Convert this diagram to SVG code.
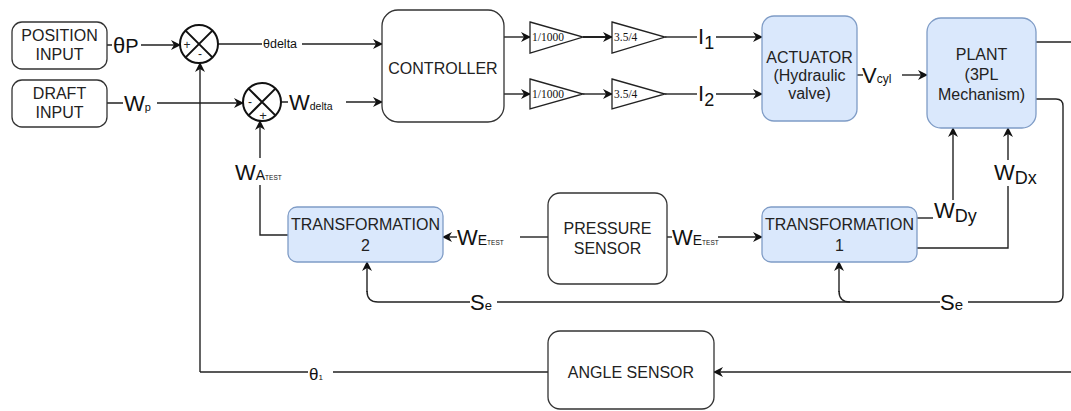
<svg xmlns="http://www.w3.org/2000/svg" width="1071" height="411" viewBox="0 0 1071 411">
<defs>
<marker id="arr" viewBox="0 0 10 10" refX="9" refY="5" markerWidth="10" markerHeight="10" markerUnits="userSpaceOnUse" orient="auto">
<path d="M0,0 L10,5 L0,10 L3,5 z" fill="#111"/>
</marker>
<style>
.box{fill:#fff;stroke:#333;stroke-width:1.3}
.blue{fill:#dae8fc;stroke:#7f9cc6;stroke-width:1.3}
.t{font-family:"Liberation Sans",Arial,sans-serif;font-size:16px;fill:#222;text-anchor:middle}
.e{fill:none;stroke:#222;stroke-width:1.4}
.ea{fill:none;stroke:#222;stroke-width:1.4;marker-end:url(#arr)}
.lb{font-family:"Liberation Sans",Arial,sans-serif;font-size:22px;fill:#111}
.sm{font-size:11px}
.g{font-family:"Liberation Serif","Times New Roman",serif;font-size:11.5px;fill:#111}
.tri{fill:#fff;stroke:#222;stroke-width:1.3}
</style>
</defs>
<g id="connectors">
<path class="ea" d="M107,45 H112 M141,45 H180"/>
<path class="ea" d="M218,44 H262 M302,44 H382"/>
<path class="ea" d="M107,103 H123 M157,103 H243"/>
<path class="ea" d="M281,102 H288 M346,102 H382"/>
<path class="ea" d="M504,37 H530"/>
<path class="ea" d="M583,37 H612" style="stroke-width:2"/>
<path class="e" d="M665,37 H697"/>
<path class="ea" d="M716,37 H762"/>
<path class="ea" d="M504,94 H530"/>
<path class="ea" d="M583,94 H612"/>
<path class="e" d="M665,94 H697"/>
<path class="ea" d="M716,94 H762"/>
<path class="e" d="M857,75 H863"/>
<path class="ea" d="M902,75 H927"/>
<path class="e" d="M1036,42 H1071"/>
<path class="e" d="M1036,99 H1056 Q1063,99 1063,106 V295 Q1063,302 1056,302 H968 M940,302 H497 M470,302 H378 Q367,302 367,291"/>
<path class="ea" d="M367,292 V262"/>
<path class="e" d="M850,302 Q839,302 839,291"/>
<path class="ea" d="M839,292 V262"/>
<path class="e" d="M917,248 H1008 V186"/>
<path class="ea" d="M1008,160 V128"/>
<path class="e" d="M917,218 H933"/>
<path class="ea" d="M953,200 V128"/>
<path class="e" d="M667,237 H672"/>
<path class="ea" d="M718,237 H762"/>
<path class="e" d="M548,237 H520"/>
<path class="ea" d="M457,237 H443"/>
<path class="e" d="M288,235 H260 V185"/>
<path class="ea" d="M260,158 V121"/>
<path class="ea" d="M1071,372 H714"/>
<path class="e" d="M548,372 H333 M308,372 H200"/>
<path class="ea" d="M200,372 V63"/>
</g>
<g id="labels">
<text class="lb" x="113" y="53">θ<tspan font-size="20">P</tspan></text>
<text class="lb" x="263" y="48" style="font-size:12.5px">θdelta</text>
<text class="lb" x="124" y="111">W<tspan class="sm">p</tspan></text>
<text class="lb" x="289" y="110">W<tspan style="font-size:10.5px">delta</tspan></text>
<text class="lb" x="698" y="44">I<tspan font-size="18" dy="5">1</tspan></text>
<text class="lb" x="698" y="101">I<tspan font-size="18" dy="5">2</tspan></text>
<text class="lb" x="862" y="83">V<tspan style="font-size:12px">cyl</tspan></text>
<text class="lb" x="994" y="180">W<tspan font-size="18" dy="4">Dx</tspan></text>
<text class="lb" x="934" y="218">W<tspan font-size="18" dy="4">Dy</tspan></text>
<text class="lb" x="672" y="245">W<tspan font-size="14">E</tspan><tspan font-size="6.5">TEST</tspan></text>
<text class="lb" x="457" y="245">W<tspan font-size="14">E</tspan><tspan font-size="6.5">TEST</tspan></text>
<text class="lb" x="235" y="180">W<tspan font-size="14">A</tspan><tspan font-size="6.5">TEST</tspan></text>
<text class="lb" x="940" y="310">S<tspan font-size="15">e</tspan></text>
<text class="lb" x="470" y="310">S<tspan font-size="13">e</tspan></text>
<text class="lb" x="309" y="380" style="font-size:17px">θ<tspan font-size="8">1</tspan></text>
</g>
<g id="position-input"><rect class="box" x="12" y="22" width="95" height="47" rx="10"/><text class="t" x="59.5" y="41">POSITION</text><text class="t" x="59.5" y="60">INPUT</text></g>
<g id="draft-input"><rect class="box" x="12" y="80" width="95" height="47" rx="10"/><text class="t" x="59.5" y="99">DRAFT</text><text class="t" x="59.5" y="118">INPUT</text></g>
<g id="sum1"><circle cx="199" cy="44" r="19" fill="#fff" stroke="#111" stroke-width="2"/><path d="M185.6,30.6 L212.4,57.4 M212.4,30.6 L185.6,57.4" stroke="#111" stroke-width="2"/><text class="t" x="187" y="49" style="font-size:12px">+</text><text class="t" x="200" y="58" style="font-size:12px">-</text></g>
<g id="sum2"><circle cx="262" cy="102" r="19" fill="#fff" stroke="#111" stroke-width="2"/><path d="M248.6,88.6 L275.4,115.4 M275.4,88.6 L248.6,115.4" stroke="#111" stroke-width="2"/><text class="t" x="250" y="106" style="font-size:12px">-</text><text class="t" x="263" y="120" style="font-size:13px">+</text></g>
<g id="controller"><rect class="box" x="382" y="10" width="122" height="112" rx="16"/><text class="t" x="443" y="74">CONTROLLER</text></g>
<g id="gain1"><path class="tri" d="M530,22 L583,37 L530,53 z"/><text class="g" x="532" y="41">1/1000</text></g>
<g id="gain2"><path class="tri" d="M612,22 L665,37 L612,53 z"/><text class="g" x="614" y="41">3.5/4</text></g>
<g id="gain3"><path class="tri" d="M530,79 L583,94 L530,109 z"/><text class="g" x="532" y="98">1/1000</text></g>
<g id="gain4"><path class="tri" d="M612,79 L665,94 L612,109 z"/><text class="g" x="614" y="98">3.5/4</text></g>
<g id="actuator"><rect class="blue" x="762" y="16" width="95" height="105" rx="12"/><text class="t" x="809.5" y="63">ACTUATOR</text><text class="t" x="809.5" y="81">(Hydraulic</text><text class="t" x="809.5" y="99">valve)</text></g>
<g id="plant"><rect class="blue" x="927" y="18" width="109" height="110" rx="14"/><text class="t" x="981.5" y="60">PLANT</text><text class="t" x="981.5" y="80">(3PL</text><text class="t" x="981.5" y="100">Mechanism)</text></g>
<g id="transformation1"><rect class="blue" x="762" y="207" width="155" height="55" rx="9"/><text class="t" x="839.5" y="230">TRANSFORMATION</text><text class="t" x="839.5" y="251">1</text></g>
<g id="transformation2"><rect class="blue" x="288" y="207" width="155" height="55" rx="9"/><text class="t" x="365.5" y="230">TRANSFORMATION</text><text class="t" x="365.5" y="251">2</text></g>
<g id="pressure-sensor"><rect class="box" x="548" y="193" width="119" height="91" rx="12"/><text class="t" x="607.5" y="234">PRESSURE</text><text class="t" x="607.5" y="254">SENSOR</text></g>
<g id="angle-sensor"><rect class="box" x="548" y="331" width="166" height="78" rx="12"/><text class="t" x="631" y="378">ANGLE SENSOR</text></g>
</svg>
